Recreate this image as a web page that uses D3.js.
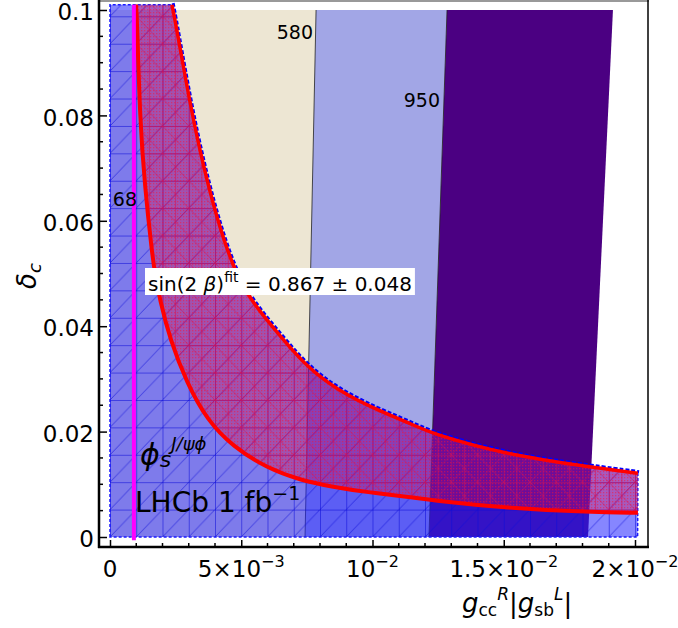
<!DOCTYPE html>
<html><head><meta charset="utf-8">
<script src="https://cdn.jsdelivr.net/npm/d3@7"></script>
<style>html,body{margin:0;padding:0;background:#fff;} svg{display:block;} text{font-family:"DejaVu Sans",sans-serif;fill:#000;}</style>
</head><body>
<svg id="c" width="678" height="628"></svg>
<script>
// ---------------- data ----------------
const xTickValues = [0, 0.005, 0.01, 0.015, 0.02];
const xTickBase = ["0", "5×10", "10", "1.5×10", "2×10"];
const xTickExp = ["", "−3", "−2", "−2", "−2"];
const yTickValues = [0, 0.02, 0.04, 0.06, 0.08, 0.1];
const yTickLabels = ["0", "0.02", "0.04", "0.06", "0.08", "0.1"];

// upper boundary of the sin(2beta) band (also upper edge of the LHCb region)
const upperX = [0.00236,0.00248,0.00293,0.00343,0.00408,0.00469,0.00533,0.00659,0.00750,0.00865,0.01017,0.01143,0.01219,0.01512,0.01829,0.02011];
const upperY = [0.1010,0.0981,0.0854,0.0729,0.0602,0.0512,0.0450,0.0375,0.0323,0.0279,0.0241,0.0216,0.0197,0.0156,0.0133,0.0121];
// lower boundary of the band
const lowerX = [0.00099,0.00103,0.00114,0.00133,0.00160,0.00171,0.00190,0.00229,0.00293,0.00370,0.00469,0.00598,0.00724,0.00850,0.00979,0.01143,0.01219,0.01512,0.01829,0.02011];
const lowerY = [0.1010,0.0981,0.0791,0.0664,0.0539,0.0501,0.0450,0.0374,0.0292,0.0222,0.0171,0.0131,0.0108,0.0095,0.0085,0.0076,0.0070,0.0055,0.0047,0.0046];

// mass bands (boundaries at delta_c = 0.1 and at delta_c = 0)
const bandTopX = [0, 0.00785, 0.01284, 0.01916];
const bandBottomX = [0, 0.00743, 0.01215, 0.01821];
const contourLabels = ["580", "950"];
const regionTop = 0.101, regionRight = 0.0201;
const phiLineX = 0.00091;

// ---------------- drawing ----------------
const svg = d3.select("#c");
const x = d3.scaleLinear().domain([0, 0.02]).range([110, 635]);
const y = d3.scaleLinear().domain([0, 0.1]).range([537, 10]);
const defs = svg.append("defs");

const cw = x(0.001) - x(0), ch = y(0) - y(0.0052);
const bp = defs.append("pattern").attr("id", "bmesh").attr("patternUnits", "userSpaceOnUse")
  .attr("x", x(0)).attr("y", y(0)).attr("width", cw).attr("height", ch);
bp.append("path").attr("d", `M0,0.4H${cw}M0.4,0V${ch}M0,${ch}L${cw},0`)
  .attr("stroke", "#0a0ad8").attr("stroke-width", 0.9).attr("stroke-opacity", 0.65).attr("fill", "none");

const rp = defs.append("pattern").attr("id", "rmesh").attr("patternUnits", "userSpaceOnUse")
  .attr("x", x(0)).attr("y", y(0)).attr("width", cw).attr("height", ch);
rp.append("path").attr("d", `M0,0L${cw},${ch}M0,${ch}L${cw},0M0,0.4H${cw}M0.4,0V${ch}M${cw/2},0V${ch}`)
  .attr("stroke", "#d0105a").attr("stroke-width", 0.9).attr("stroke-opacity", 0.65).attr("fill", "none");
const dp = defs.append("pattern").attr("id", "rdots").attr("patternUnits", "userSpaceOnUse")
  .attr("width", 3).attr("height", 3);
dp.append("rect").attr("width", 1.3).attr("height", 1.3).attr("fill", "#ff1030").attr("opacity", 0.5);

// bands
const bandColors = ["#ede6d3", "#a2a6e6", "#4b0082"];
for (let i = 0; i < 3; i++) {
  const pts = [[bandBottomX[i], 0], [bandTopX[i], 0.1], [bandTopX[i+1], 0.1], [bandBottomX[i+1], 0]];
  svg.append("path").attr("d", d3.line().x(d => x(d[0])).y(d => y(d[1]))(pts) + "Z")
    .attr("fill", bandColors[i]);
}
for (let i = 1; i < 3; i++) {
  svg.append("line").attr("x1", x(bandTopX[i])).attr("y1", y(0.1)).attr("x2", x(bandBottomX[i])).attr("y2", y(0))
    .attr("stroke", "#222").attr("stroke-width", 1).attr("stroke-opacity", 0.8);
}

const line = d3.line().x(d => x(d[0])).y(d => y(d[1])).curve(d3.curveBasis);
const upper = upperX.map((v, i) => [v, upperY[i]]);
const lower = lowerX.map((v, i) => [v, lowerY[i]]);
const upperPath = line(upper);
const lowerRevPath = line(lower.slice().reverse());

// LHCb region (blue)
const regionPath = `M${x(0)},${y(0)}L${x(0)},${y(regionTop)}L` + upperPath.slice(1) + `L${x(regionRight)},${y(0)}Z`;
svg.append("path").attr("d", regionPath).attr("fill", "#2222ff").attr("fill-opacity", 0.55);
svg.append("path").attr("d", regionPath).attr("fill", "url(#bmesh)");
svg.append("path").attr("d", regionPath).attr("fill", "none").attr("stroke", "#1a1aff")
  .attr("stroke-width", 1.5).attr("stroke-dasharray", "3,2");
svg.append("path").attr("d", upperPath).attr("transform", "translate(1.2,-1.6)").attr("fill", "none").attr("stroke", "#0000ff")
  .attr("stroke-width", 3).attr("stroke-dasharray", "4,2");

// sin(2beta) band (red)
const bandPath = upperPath + "L" + lowerRevPath.slice(1) + "Z";
svg.append("path").attr("d", bandPath).attr("fill", "#e8003a").attr("fill-opacity", 0.33);
svg.append("path").attr("d", bandPath).attr("fill", "url(#rdots)");
svg.append("path").attr("d", bandPath).attr("fill", "url(#rmesh)");
svg.append("path").attr("d", upperPath).attr("fill", "none").attr("stroke", "#ff0000").attr("stroke-width", 3.5);
svg.append("path").attr("d", line(lower)).attr("fill", "none").attr("stroke", "#ff0000").attr("stroke-width", 4);

// phi_s line
svg.append("line").attr("x1", x(phiLineX)).attr("x2", x(phiLineX)).attr("y1", y(regionTop)).attr("y2", y(-0.0006))
  .attr("stroke", "#ff00ff").attr("stroke-width", 4);

// contour labels
svg.append("text").attr("x", 313).attr("y", 39).attr("text-anchor", "end").attr("font-size", 19).text(contourLabels[0]);
svg.append("text").attr("x", 440).attr("y", 107).attr("text-anchor", "end").attr("font-size", 19).text(contourLabels[1]);
svg.append("text").attr("x", 137).attr("y", 206).attr("text-anchor", "end").attr("font-size", 19).text("68");

// sin(2beta) label with white box
const sg = svg.append("g");
const st = sg.append("text").attr("x", 148).attr("y", 291).attr("font-size", 20);
st.append("tspan").text("sin(2 ");
st.append("tspan").attr("font-style", "italic").text("β");
st.append("tspan").text(")");
st.append("tspan").attr("font-size", 14).attr("dy", -9).text("fit");
st.append("tspan").attr("dy", 9).text(" = 0.867 ± 0.048");
const sb = st.node().getBBox();
sg.insert("rect", "text").attr("x", sb.x - 3).attr("y", 268).attr("width", sb.width + 6).attr("height", 27).attr("fill", "#fff");

// phi_s label
const pt = svg.append("text").attr("x", 140).attr("y", 465).attr("font-style", "italic");
pt.append("tspan").attr("font-size", 30).text("ϕ");
pt.append("tspan").attr("font-size", 22).attr("dy", 2).text("s");
pt.append("tspan").attr("font-size", 18).attr("dy", -17).text("J/ψϕ");

// LHCb label
const lt = svg.append("text").attr("x", 135).attr("y", 512).attr("font-size", 28);
lt.append("tspan").text("LHCb 1 fb");
lt.append("tspan").attr("font-size", 19).attr("dy", -12).text("−1");

// axes
const yAxis = d3.axisLeft(y).tickValues(yTickValues).tickSizeInner(-8).tickSizeOuter(0).tickPadding(5)
  .tickFormat((d, i) => yTickLabels[i]);
const yg = svg.append("g").attr("transform", "translate(99,0)").call(yAxis);
yg.select(".domain").remove();
yg.selectAll("line").attr("stroke", "#000").attr("stroke-width", 1.5);
yg.selectAll("text").attr("font-size", 23).attr("font-family", "DejaVu Sans").attr("dy", "0.42em");
const yMinor = d3.range(0, 0.1001, 0.005).filter(v => Math.abs(v / 0.02 - Math.round(v / 0.02)) > 1e-6);
svg.append("g").selectAll("line").data(yMinor).join("line")
  .attr("x1", 99).attr("x2", 103).attr("y1", d => y(d)).attr("y2", d => y(d)).attr("stroke", "#000").attr("stroke-width", 1.5);

const xAxis = d3.axisBottom(x).tickValues(xTickValues).tickSizeInner(-7).tickSizeOuter(0).tickFormat("");
const xg = svg.append("g").attr("transform", "translate(0,547)").call(xAxis);
xg.select(".domain").remove();
xg.selectAll("line").attr("stroke", "#000").attr("stroke-width", 1.5);
const xMinor = d3.range(0, 0.02001, 0.001).filter(v => Math.abs(v / 0.005 - Math.round(v / 0.005)) > 1e-6);
svg.append("g").selectAll("line").data(xMinor).join("line")
  .attr("x1", d => x(d)).attr("x2", d => x(d)).attr("y1", 547).attr("y2", 543).attr("stroke", "#000").attr("stroke-width", 1.5);
xTickValues.forEach((v, i) => {
  const t = svg.append("text").attr("x", x(v)).attr("y", 577).attr("text-anchor", "middle").attr("font-size", 23);
  t.append("tspan").text(xTickBase[i]);
  if (xTickExp[i]) t.append("tspan").attr("font-size", 16).attr("dy", -10).text(xTickExp[i]);
});

// frame
svg.append("line").attr("x1", 99).attr("x2", 649).attr("y1", 1).attr("y2", 1).attr("stroke", "#777").attr("stroke-width", 1.5);
svg.append("line").attr("x1", 648).attr("x2", 648).attr("y1", 0).attr("y2", 548).attr("stroke", "#000").attr("stroke-width", 1.5);
svg.append("line").attr("x1", 99).attr("x2", 99).attr("y1", 0).attr("y2", 548).attr("stroke", "#000").attr("stroke-width", 2.5);
svg.append("line").attr("x1", 98).attr("x2", 649).attr("y1", 547).attr("y2", 547).attr("stroke", "#000").attr("stroke-width", 2.5);

// axis labels
const yl = svg.append("text").attr("transform", "translate(36,276) rotate(-90)").attr("text-anchor", "middle").attr("font-style", "italic");
yl.append("tspan").attr("font-size", 26).text("δ");
yl.append("tspan").attr("font-size", 18).attr("dy", 5).text("c");

const xl = svg.append("text").attr("x", 462).attr("y", 612).attr("font-size", 26);
xl.append("tspan").attr("font-style", "italic").text("g");
xl.append("tspan").attr("font-size", 17).attr("dy", 4).text("cc");
xl.append("tspan").attr("font-size", 17).attr("font-style", "italic").attr("dy", -16).text("R");
xl.append("tspan").attr("dy", 12).text("|");
xl.append("tspan").attr("font-style", "italic").text("g");
xl.append("tspan").attr("font-size", 17).attr("dy", 4).text("sb");
xl.append("tspan").attr("font-size", 17).attr("font-style", "italic").attr("dy", -16).text("L");
xl.append("tspan").attr("dy", 12).text("|");
</script></body></html>
